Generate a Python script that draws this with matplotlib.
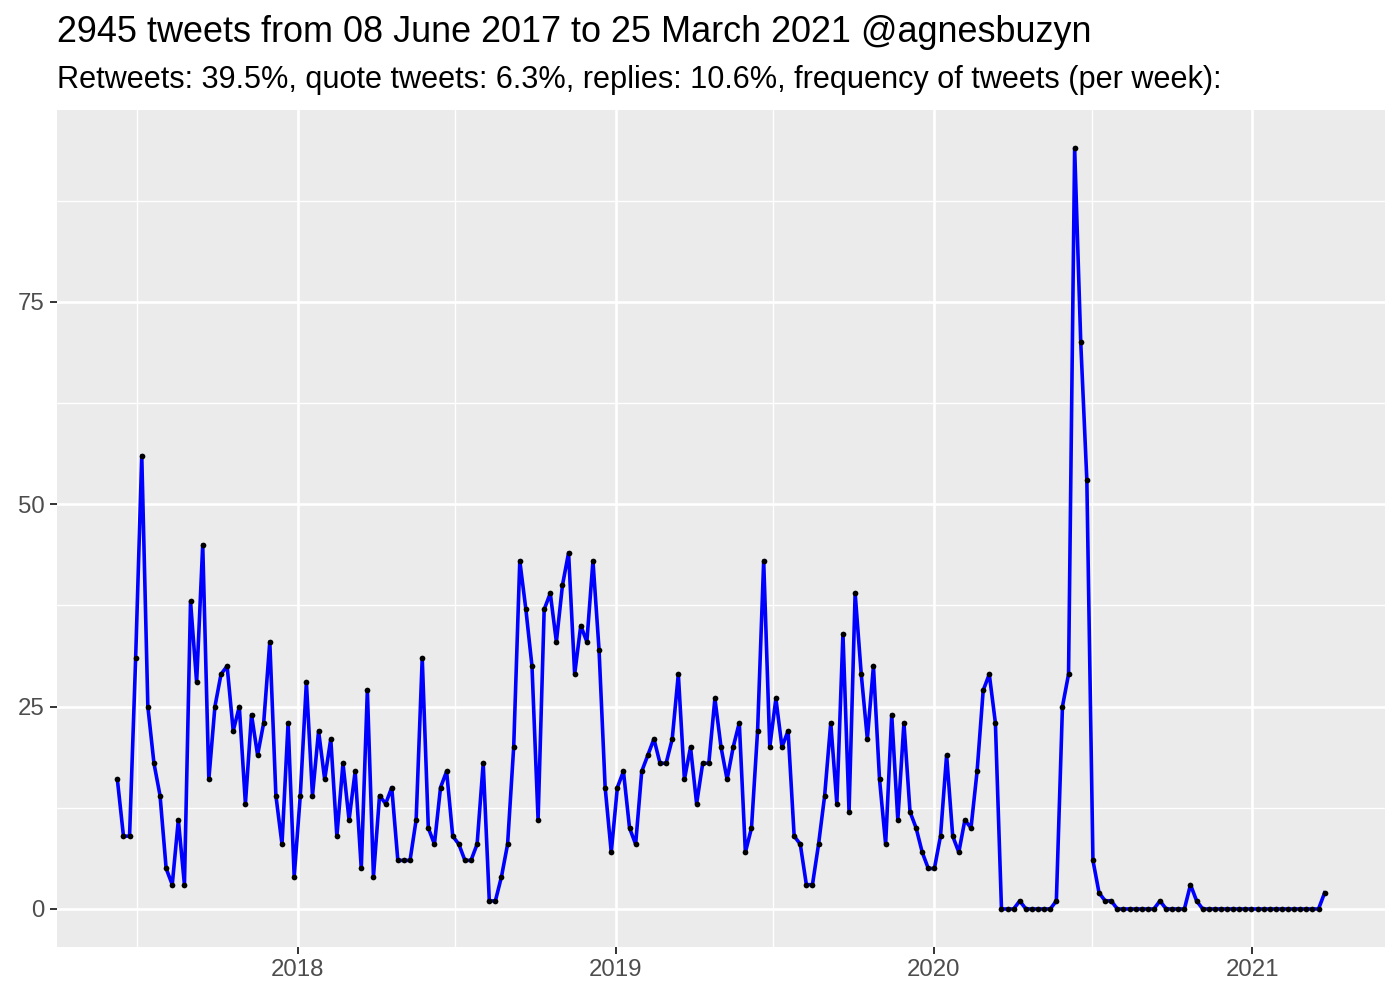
import numpy as np
import pandas as pd
import matplotlib
matplotlib.use("Agg")
import matplotlib.pyplot as plt
import matplotlib.dates as mdates

plt.rcParams['font.family'] = ['Liberation Sans', 'DejaVu Sans']

title = "2945 tweets from 08 June 2017 to 25 March 2021 @agnesbuzyn"
subtitle = "Retweets: 39.5%, quote tweets: 6.3%, replies: 10.6%, frequency of tweets (per week):"

start_date = "2017-06-08"
weekly_counts = [
    16, 9, 9, 31, 56, 25, 18, 14, 5, 3, 11, 3, 38, 28, 45, 16, 25, 29, 30, 22,
    25, 13, 24, 19, 23, 33, 14, 8, 23, 4, 14, 28, 14, 22, 16, 21, 9, 18, 11, 17,
    5, 27, 4, 14, 13, 15, 6, 6, 6, 11, 31, 10, 8, 15, 17, 9, 8, 6, 6, 8,
    18, 1, 1, 4, 8, 20, 43, 37, 30, 11, 37, 39, 33, 40, 44, 29, 35, 33, 43, 32,
    15, 7, 15, 17, 10, 8, 17, 19, 21, 18, 18, 21, 29, 16, 20, 13, 18, 18, 26, 20,
    16, 20, 23, 7, 10, 22, 43, 20, 26, 20, 22, 9, 8, 3, 3, 8, 14, 23, 13, 34,
    12, 39, 29, 21, 30, 16, 8, 24, 11, 23, 12, 10, 7, 5, 5, 9, 19, 9, 7, 11,
    10, 17, 27, 29, 23, 0, 0, 0, 1, 0, 0, 0, 0, 0, 1, 25, 29, 94, 70, 53,
    6, 2, 1, 1, 0, 0, 0, 0, 0, 0, 0, 1, 0, 0, 0, 0, 3, 1, 0, 0,
    0, 0, 0, 0, 0, 0, 0, 0, 0, 0, 0, 0, 0, 0, 0, 0, 0, 0, 2,
]
dates = pd.date_range(start_date, periods=len(weekly_counts), freq="7D")

y_ticks = [0, 25, 50, 75]
y_minor = [12.5, 37.5, 62.5, 87.5]
x_tick_labels = ["2018", "2019", "2020", "2021"]
x_minor_dates = ["2017-07-01", "2018-07-01", "2019-07-01", "2020-07-01"]

W, H = 1400, 1000
fig = plt.figure(figsize=(14, 10), dpi=100)
L, R, T, B = 57, 1385, 110, 947
ax = fig.add_axes([L / W, 1 - B / H, (R - L) / W, (B - T) / H])
ax.set_facecolor("#EBEBEB")
for s in ax.spines.values():
    s.set_visible(False)

xnum = mdates.date2num(dates)
ax.plot(xnum, weekly_counts, color="#0000FF", lw=2.6, zorder=3)
ax.scatter(xnum, weekly_counts, s=17, color="black", zorder=4, linewidths=0)

xr = xnum.max() - xnum.min()
ax.set_xlim(xnum.min() - 0.05 * xr, xnum.max() + 0.05 * xr)
ymax = max(weekly_counts)
ax.set_ylim(-0.05 * ymax, ymax * 1.05)

xt = mdates.date2num(pd.to_datetime([f"{y}-01-01" for y in x_tick_labels]))
ax.set_xticks(xt)
ax.set_xticklabels(x_tick_labels)
ax.set_xticks(mdates.date2num(pd.to_datetime(x_minor_dates)), minor=True)
ax.set_yticks(y_ticks)
ax.set_yticklabels([str(v) for v in y_ticks])
ax.set_yticks(y_minor, minor=True)

ax.grid(which="major", color="white", lw=1.9, zorder=0)
ax.grid(which="minor", color="white", lw=0.95, zorder=0)
ax.set_axisbelow(True)
ax.tick_params(which="major", length=5, width=1.4, color="#333333",
               labelsize=17.3, labelcolor="#4D4D4D", pad=4)
ax.tick_params(which="minor", length=0)

fig.text(L / W, 1 - 42 / H, title, fontsize=25.9, color="black",
         ha="left", va="baseline")
fig.text(L / W, 1 - 88 / H, subtitle, fontsize=22.1, color="black",
         ha="left", va="baseline")

fig.savefig("out.png", dpi=100, facecolor="white")
